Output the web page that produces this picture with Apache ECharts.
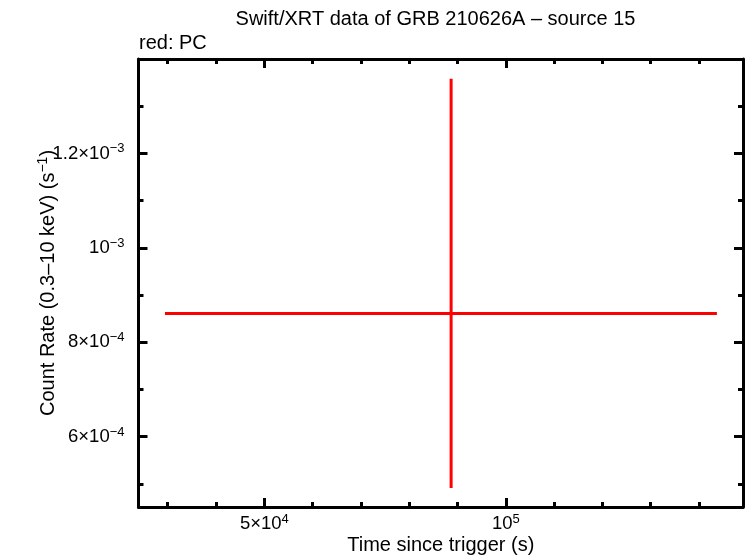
<!DOCTYPE html>
<html><head><meta charset="utf-8">
<script src="https://cdn.jsdelivr.net/npm/echarts@6/dist/echarts.min.js"></script>
<style>html,body{margin:0;padding:0;background:#fff}#c{width:746px;height:558px}</style>
</head><body><div id="c"></div>
<script>
// Data (single PC point with error bars)
const xCenter = [88670];
const xLow = [29430];
const xHigh = [143700];
const yCenter = [8.61e-4];
const yLow = [4.91e-4];
const yHigh = [1.358e-3];

// Ticks and labels
const xMajorTicks = [50000, 100000];
const xMajorLabels = ['5×10{s|4}', '10{s|5}'];
const xMinorTicks = [30000, 40000, 60000, 70000, 80000, 90000, 110000, 120000, 130000, 140000];
const yMajorTicks = [6e-4, 8e-4, 1e-3, 1.2e-3];
const yMajorLabels = ['6×10{s|−4}', '8×10{s|−4}', '10{s|−3}', '1.2×10{s|−3}'];
const yMinorTicks = [5e-4, 7e-4, 9e-4, 1.1e-3, 1.3e-3];

const xMin = 23950, xMax = 149100;
const yMin = 4.51e-4, yMax = 1.4e-3;

const FONT = "'Liberation Sans', Arial, Helvetica, sans-serif";
const chart = echarts.init(document.getElementById('c'), null, {renderer: 'canvas'});

function labelFor(ticks, labels) {
  return function (v) {
    for (let i = 0; i < ticks.length; i++) {
      if (Math.abs(ticks[i] - v) <= Math.abs(ticks[i]) * 1e-6) return labels[i];
    }
    return '';
  };
}
const richSup = {
  m: {fontSize: 18.5, fontFamily: FONT, color: '#000', lineHeight: 22},
  s: {fontSize: 13, fontFamily: FONT, color: '#000', verticalAlign: 'top', lineHeight: 22}
};
function wrapMain(fmt) {
  return function (v) {
    const t = fmt(v);
    const i = t.indexOf('{s|');
    return '{m|' + t.slice(0, i) + '}' + t.slice(i);
  };
}
const axisLineStyle = {color: '#000', width: 3};
function mkAxis(pos, min, max, ticks, len, withLine, extra) {
  return Object.assign({
    type: 'value', position: pos, min: min, max: max,
    axisLine: {show: withLine, onZero: false, lineStyle: axisLineStyle},
    axisTick: {show: true, inside: true, length: len, customValues: ticks, lineStyle: {color: '#000', width: 3}},
    axisLabel: {show: false},
    splitLine: {show: false},
    minorTick: {show: false}
  }, extra || {});
}

const hData = [];
const vData = [];
for (let i = 0; i < xCenter.length; i++) {
  hData.push([xLow[i], yCenter[i]], [xHigh[i], yCenter[i]], null);
  vData.push([xCenter[i], yLow[i]], [xCenter[i], yHigh[i]], null);
}

const option = {
  animation: false,
  backgroundColor: '#fff',
  grid: {left: 138.5, right: 3, top: 59, bottom: 51, containLabel: false, outerBoundsMode: 'none'},
  xAxis: [
    mkAxis('bottom', xMin, xMax, xMajorTicks, 9, true, {
      axisLabel: {show: true, customValues: xMajorTicks, margin: 6,
        formatter: wrapMain(labelFor(xMajorTicks, xMajorLabels)), rich: richSup},
      name: 'Time since trigger (s)', nameLocation: 'middle', nameGap: 28, nameMoveOverlap: false,
      nameTextStyle: {fontSize: 20, fontFamily: FONT, color: '#000'}
    }),
    mkAxis('bottom', xMin, xMax, xMinorTicks, 5, false),
    mkAxis('top', xMin, xMax, xMajorTicks, 9, true),
    mkAxis('top', xMin, xMax, xMinorTicks, 5, false)
  ],
  yAxis: [
    mkAxis('left', yMin, yMax, yMajorTicks, 9, true, {
      axisLabel: {show: true, customValues: yMajorTicks, margin: 14,
        formatter: wrapMain(labelFor(yMajorTicks, yMajorLabels)), rich: richSup},
      name: '{n|Count Rate (0.3–10 keV) (s}{s|−1}{n|)}', nameLocation: 'middle', nameGap: 78, nameMoveOverlap: false,
      nameTextStyle: {fontSize: 20, fontFamily: FONT, color: '#000',
        rich: {n: {fontSize: 20, fontFamily: FONT, color: '#000', lineHeight: 24},
               s: {fontSize: 14, fontFamily: FONT, color: '#000', verticalAlign: 'top', lineHeight: 24}}}
    }),
    mkAxis('left', yMin, yMax, yMinorTicks, 5, false),
    mkAxis('right', yMin, yMax, yMajorTicks, 9, true),
    mkAxis('right', yMin, yMax, yMinorTicks, 5, false)
  ],
  graphic: [
    {type: 'text', style: {text: 'Swift/XRT data of GRB 210626A – source 15', x: 435.5, y: 19.5, align: 'center', verticalAlign: 'middle', fontSize: 20, fontFamily: FONT, fill: '#000'}},
    {type: 'text', style: {text: 'red: PC', x: 139, y: 43, align: 'left', verticalAlign: 'middle', fontSize: 20, fontFamily: FONT, fill: '#000'}}
  ],
  series: [
    {type: 'line', xAxisIndex: 0, yAxisIndex: 0, data: hData, symbol: 'none', connectNulls: false,
      lineStyle: {color: '#ff0000', width: 3}, silent: true},
    {type: 'line', xAxisIndex: 0, yAxisIndex: 0, data: vData, symbol: 'none', connectNulls: false,
      lineStyle: {color: '#ff0000', width: 3}, silent: true}
  ]
};
chart.setOption(option);
</script>
</body></html>
